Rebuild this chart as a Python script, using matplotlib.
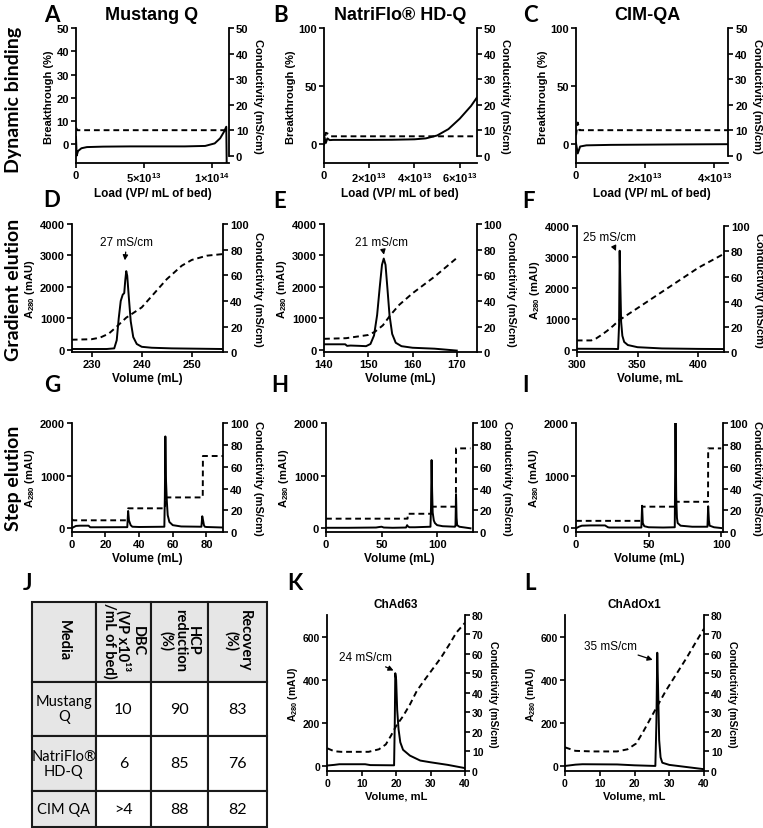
import matplotlib.pyplot as plt
from matplotlib.patches import Rectangle

plt.rcParams['font.family'] = 'Liberation Sans'
plt.rcParams['font.weight'] = 'bold'
plt.rcParams['axes.labelweight'] = 'bold'
plt.rcParams['axes.titleweight'] = 'bold'
plt.rcParams['axes.linewidth'] = 1.3
plt.rcParams['mathtext.fontset'] = 'custom'
plt.rcParams['mathtext.rm'] = 'Liberation Sans:bold'
plt.rcParams['mathtext.it'] = 'Liberation Sans:bold:italic'
plt.rcParams['mathtext.bf'] = 'Liberation Sans:bold'

# ---- dynamic binding (load in units of 1e13 VP/mL of bed) ----
a_load = [0, 0.05, 0.15, 0.4, 0.8, 2, 4, 6, 8, 9.5, 10.2, 10.6, 10.9, 11.05, 11.08]
a_break = [3, -5, -3, -1.8, -1.3, -1.1, -1, -1, -1, -0.8, 0.3, 2.5, 5.5, 7.5, -8.3]
a_cond_load = [0, 0.1, 11.08]
a_cond = [11, 10, 10]

b_load = [0, 0.08, 0.15, 0.25, 0.4, 1, 2, 3, 4, 4.5, 5, 5.5, 6, 6.5, 6.75]
b_break = [8, 1, 5, 3.5, 3.7, 3.7, 3.7, 3.8, 4.2, 5, 7.5, 13, 22, 33, 40]
b_cond_load = [0, 0.08, 0.2, 0.3, 6.75]
b_cond = [4, 9, 8.5, 7.6, 7.6]

c_load = [0, 0.05, 0.12, 0.3, 1, 2, 3, 4.4]
c_break = [1, -8, -2, -1, -0.6, -0.4, -0.2, 0]
c_cond_load = [0, 0.05, 0.1, 4.4]
c_cond = [8, 13, 10, 10]

# ---- gradient elution ----
d_vol = [226, 233, 234.5, 235.0, 235.4, 235.8, 236.2, 236.5, 236.7, 236.9, 237.1, 237.4,
         237.8, 238.3, 239, 240, 242, 246, 256]
d_a280 = [20, 20, 40, 300, 1000, 1550, 1750, 1800, 2200, 2500, 2350, 1700, 900, 400, 180,
          90, 60, 40, 20]
d_cond_vol = [226, 230, 231.7, 233.4, 235, 236.9, 240, 242.5, 245, 248, 250, 253, 256.3]
d_cond = [9.8, 10.2, 11.5, 14.5, 20, 27, 35, 46, 57, 67.5, 72, 75.3, 76.6]

e_vol = [140, 144.8, 145.2, 146, 148, 149.5, 150.5, 151.3, 152, 152.6, 153.1, 153.5, 153.9,
         154.3, 154.8, 155.4, 156.2, 157.5, 160, 165, 170]
e_a280 = [170, 170, 120, 130, 120, 110, 180, 450, 1100, 2000, 2700, 2900, 2700, 2000, 1100,
          500, 220, 110, 60, 30, -30]
e_cond_vol = [140, 145, 148, 150, 151.5, 153.3, 155, 157, 160, 165, 170]
e_cond = [10.5, 11, 12.5, 13.5, 16, 21, 29, 37, 46, 59, 73.5]

f_vol = [300, 330, 334, 334.8, 335.3, 335.8, 336.5, 337.5, 339, 342, 350, 370, 400, 421]
f_a280 = [30, 25, 20, 800, 3200, 2200, 900, 450, 250, 150, 80, 40, 25, 20]
f_cond_vol = [300, 312, 316, 320, 325, 330, 335, 350, 375, 400, 421]
f_cond = [9.4, 9.4, 11, 13.5, 17, 21, 25.5, 35, 51, 67, 78]

# ---- step elution ----
g_vol = [0, 1, 2.5, 5, 10, 11, 15, 33, 33.5, 34, 35, 36, 40, 55, 55.3, 55.6, 56, 56.5, 57,
         58, 60, 65, 77, 77.5, 78, 78.5, 79, 80, 85, 90]
g_a280 = [0, 20, 45, 50, 50, 20, 20, 22, 330, 150, 60, 30, 25, 30, 600, 1750, 900, 500, 250,
          120, 60, 35, 30, 230, 150, 60, 30, 25, 20, 15]
g_cond_vol = [0, 1, 33.4, 33.5, 55.4, 55.5, 77.8, 77.9, 90]
g_cond = [12, 11, 11, 22, 22, 32, 32, 70, 70]

h_vol = [0, 20, 45, 48, 50, 52, 60, 72, 73, 73.5, 75, 80, 94, 94.5, 95, 95.5, 96, 97, 98, 100,
         105, 116, 116.5, 117, 117.5, 118, 120, 125, 130]
h_a280 = [10, 10, 15, 25, 30, 15, 10, 15, 60, 40, 20, 20, 30, 400, 1300, 700, 300, 150, 100,
          60, 40, 30, 40, 650, 200, 60, 30, 15, 0]
h_cond_vol = [0, 73.4, 73.5, 94.9, 95, 116.9, 117, 130]
h_cond = [12.5, 12.5, 17, 17, 23.5, 23.5, 77, 77]

i_vol = [0, 2, 4, 10, 20, 22, 23, 30, 45, 45.5, 46, 47, 50, 60, 68, 68.5, 69, 69.5, 70, 72,
         80, 90.5, 91, 91.5, 92, 95, 100]
i_a280 = [0, 30, 50, 55, 55, 20, 15, 15, 15, 430, 100, 40, 20, 15, 20, 2100, 600, 200, 100,
          50, 30, 30, 420, 150, 50, 20, 5]
i_cond_vol = [0, 45.4, 45.5, 68.4, 68.5, 90.9, 91, 100]
i_cond = [10.5, 10.5, 23.5, 23.5, 28, 28, 77, 77]

# ---- ChAd63 / ChAdOx1 ----
k_vol = [0, 2, 3.5, 11, 12.5, 19.4, 19.6, 19.75, 20.0, 20.3, 20.7, 21.2, 22, 24, 27, 30, 35, 40]
k_a280 = [2, 5, 8, 8, 4, 3, 200, 430, 400, 260, 170, 110, 75, 48, 25, 17, 5, -10]
k_cond_vol = [0, 2, 4, 12, 15, 17, 18.5, 20, 22, 24, 26, 28, 30.5, 33, 35.5, 37.5, 40]
k_cond = [11.5, 10, 9.7, 9.7, 11, 13.5, 18, 23, 28, 34, 41, 46, 52, 58, 65, 71, 76]

l_vol = [0, 3, 5, 15, 20, 26, 26.3, 26.55, 26.8, 27.1, 27.5, 28, 30, 35, 40]
l_a280 = [0, 6, 8, 7, 3, 0, 200, 525, 350, 120, 40, 15, 5, -5, -15]
l_cond_vol = [0, 3, 8, 15, 18, 20.5, 22.5, 24.5, 26.5, 29, 32, 35, 37.8, 40]
l_cond = [12, 10.2, 9.9, 9.9, 11, 14, 20, 26.5, 33, 41, 49.5, 58, 66.5, 73]

# ---- table ----
tbl_headers = ['Media', 'DBC\n(VP x10¹³\n/mL of bed)', 'HCP\nreduction\n(%)', 'Recovery\n(%)']
tbl_media = ['Mustang\nQ', 'NatriFlo®\nHD-Q', 'CIM QA']
tbl_dbc = ['10', '6', '>4']
tbl_hcp = ['90', '85', '88']
tbl_recovery = ['83', '76', '82']

W, H = 763, 829
fig = plt.figure(figsize=(W / 100, H / 100), dpi=100)

# background axes in pixel units for the table and free text
bg = fig.add_axes([0, 0, 1, 1])
bg.set_xlim(0, W)
bg.set_ylim(H, 0)
bg.axis('off')
bg.set_zorder(-1)


def panel(box, x, y, cx, cy, xlim, ylim, ylim2, xticks, yticks, yticks2,
          xlabel, ylabel, xticklabels=None, bounds2=None, small=False):
    x0, x1, y0, y1 = box
    ax = fig.add_axes([x0 / W, 1 - y1 / H, (x1 - x0) / W, (y1 - y0) / H])
    ax2 = ax.twinx()
    ax.plot(x, y, color='black', lw=1.4, clip_on=True)
    ax2.plot(cx, cy, color='black', lw=1.4, ls=(0, (3, 2)))
    ax.set_xlim(*xlim)
    ax.set_ylim(*ylim)
    ax2.set_ylim(*ylim2)
    ax.set_xticks(xticks, xticklabels if xticklabels else [str(t) for t in xticks])
    ax.set_yticks(yticks)
    ax2.set_yticks(yticks2)
    fs = 7.5 if small else 8
    for a in (ax, ax2):
        a.spines['top'].set_visible(False)
        a.tick_params(direction='out', length=3.5, width=1.2, labelsize=fs, pad=1.5)
    ax.spines['right'].set_visible(False)
    ax2.spines['left'].set_visible(False)
    ax2.spines['bottom'].set_visible(False)
    if bounds2:
        ax2.spines['right'].set_bounds(*bounds2)
    ax.set_xlabel(xlabel, fontsize=fs + 0.5, labelpad=2)
    ax.set_ylabel(ylabel, fontsize=fs, labelpad=2)
    ax2.set_ylabel('Conductivity (mS/cm)', fontsize=fs, rotation=-90, va='bottom', labelpad=3)
    return ax, ax2


e13 = lambda n: '%d×10$^{13}$' % n

# row 1
panel((76, 229, 29.3, 164.3), a_load, a_break, a_cond_load, a_cond, (0, 11.25), (-8.3, 50),
      (-3, 50), [0, 5, 10], range(0, 51, 10), range(0, 51, 10), 'Load (VP/ mL of bed)',
      'Breakthrough (%)', ['0', e13(5), '1×10$^{14}$'], bounds2=(0, 50))
panel((324, 476.7, 29.3, 164.3), b_load, b_break, b_cond_load, b_cond, (0, 6.75), (-16.5, 100),
      (-3, 50), [0, 2, 4, 6], [0, 50, 100], range(0, 51, 10), 'Load (VP/ mL of bed)',
      'Breakthrough (%)', ['0', e13(2), e13(4), e13(6)], bounds2=(0, 50))
panel((576, 728.3, 29.3, 164.3), c_load, c_break, c_cond_load, c_cond, (0, 4.4), (-16.5, 100),
      (-3, 50), [0, 2, 4], [0, 50, 100], range(0, 51, 10), 'Load (VP/ mL of bed)',
      'Breakthrough (%)', ['0', e13(2), e13(4)], bounds2=(0, 50))

# row 2
a280 = 'A$_{280}$ (mAU)'
axd, _ = panel((71.7, 223.3, 225, 353.3), d_vol, d_a280, d_cond_vol, d_cond, (226, 256.3),
               (-85, 4000), (0, 100), [230, 240, 250], range(0, 4001, 1000), range(0, 101, 20),
               'Volume (mL)', a280)
axe, _ = panel((324, 476.7, 225, 353.3), e_vol, e_a280, e_cond_vol, e_cond, (140, 174.5),
               (-85, 4000), (0, 100), [140, 150, 160, 170], range(0, 4001, 1000),
               range(0, 101, 20), 'Volume (mL)', a280)
axf, _ = panel((576.7, 724, 227, 353.3), f_vol, f_a280, f_cond_vol, f_cond, (300, 421),
               (-85, 4000), (0, 100), [300, 350, 400], range(0, 4001, 1000), range(0, 101, 20),
               'Volume, mL', a280)

# row 3
panel((71.7, 223.3, 424.3, 533.3), g_vol, g_a280, g_cond_vol, g_cond, (0, 90), (-76, 2000),
      (0, 100), [0, 20, 40, 60, 80], [0, 1000, 2000], range(0, 101, 20), 'Volume (mL)', a280)
panel((326, 472.7, 424.3, 533.3), h_vol, h_a280, h_cond_vol, h_cond, (0, 132), (-76, 2000),
      (0, 100), [0, 50, 100], [0, 1000, 2000], range(0, 101, 20), 'Volume (mL)', a280)
panel((576, 722.7, 424.3, 533.3), i_vol, i_a280, i_cond_vol, i_cond, (0, 101), (-76, 2000),
      (0, 100), [0, 50, 100], [0, 1000, 2000], range(0, 101, 20), 'Volume (mL)', a280)

# row 4
axk, _ = panel((327.3, 465, 616, 771.7), k_vol, k_a280, k_cond_vol, k_cond, (0, 40), (-22, 700),
               (0, 80), range(0, 41, 10), range(0, 601, 200), range(0, 81, 10), 'Volume, mL',
               a280, small=True)
axl, _ = panel((565, 704, 616, 771.7), l_vol, l_a280, l_cond_vol, l_cond, (0, 40), (-22, 700),
               (0, 80), range(0, 41, 10), range(0, 601, 200), range(0, 81, 10), 'Volume, mL',
               a280, small=True)
axk.set_title('ChAd63', fontsize=8.5, pad=6)
axl.set_title('ChAdOx1', fontsize=8.5, pad=6)

# peak annotations
arrow = dict(arrowstyle='-|>,head_length=0.35,head_width=0.18', color='black', lw=0.9,
             shrinkA=1, shrinkB=1)
for ax, text, xy, xyt in [(axd, '27 mS/cm', (236.6, 2800), (237, 3430)),
                          (axe, '21 mS/cm', (153.6, 2980), (153, 3430)),
                          (axf, '25 mS/cm', (332.8, 3150), (327, 3640)),
                          (axk, '24 mS/cm', (19.6, 440), (11, 503)),
                          (axl, '35 mS/cm', (25.6, 490), (13, 557))]:
    ax.annotate(text, xy=xy, xytext=xyt, ha='center', va='center', fontsize=8.5,
                fontweight='normal', arrowprops=arrow)

# titles, panel letters, row labels
for x, t in [(152, 'Mustang Q'), (400, 'NatriFlo® HD-Q'), (647, 'CIM-QA')]:
    bg.text(x, 15, t, fontsize=13, ha='center', va='center')
for x, y, t in [(52, 15, 'A'), (281, 15, 'B'), (530, 15, 'C'),
                (52, 200, 'D'), (280, 201, 'E'), (529, 201, 'F'),
                (52, 385, 'G'), (280, 385, 'H'), (525, 385, 'I'),
                (28, 583, 'J'), (295, 583, 'K'), (530, 583, 'L')]:
    bg.text(x, y, t, fontsize=16, ha='center', va='center', family='Lato', fontweight='bold')
for y, t in [(100, 'Dynamic binding'), (290, 'Gradient elution'), (478, 'Step elution')]:
    bg.text(14, y, t, fontsize=14, rotation=90, ha='center', va='center', family='Lato',
            fontweight='bold')

# table J
col_x = [31.7, 96, 150.7, 208.3, 267]
row_y = [602.7, 682.7, 736.7, 791.7, 827.5]
grey = '#e6e6e6'
for c in range(4):
    bg.add_patch(Rectangle((col_x[c], row_y[0]), col_x[c + 1] - col_x[c], row_y[1] - row_y[0],
                           facecolor=grey, edgecolor='#1a1a1a', lw=1.5))
    bg.text((col_x[c] + col_x[c + 1]) / 2, (row_y[0] + row_y[1]) / 2 - 2, tbl_headers[c],
            rotation=-90, ha='center', va='center', fontsize=10.5, family='Lato',
            fontweight='bold', multialignment='center', linespacing=0.95)
for r in range(3):
    cells = [tbl_media[r], tbl_dbc[r], tbl_hcp[r], tbl_recovery[r]]
    for c in range(4):
        bg.add_patch(Rectangle((col_x[c], row_y[r + 1]), col_x[c + 1] - col_x[c],
                               row_y[r + 2] - row_y[r + 1], facecolor=grey if c == 0 else 'white',
                               edgecolor='#1a1a1a', lw=1.5))
        bg.text((col_x[c] + col_x[c + 1]) / 2, (row_y[r + 1] + row_y[r + 2]) / 2, cells[c],
                ha='center', va='center', fontsize=10.5 if c == 0 else 11.5, family='Lato',
                fontweight='normal', multialignment='center', linespacing=1.1)

fig.savefig('out.png', dpi=100)
